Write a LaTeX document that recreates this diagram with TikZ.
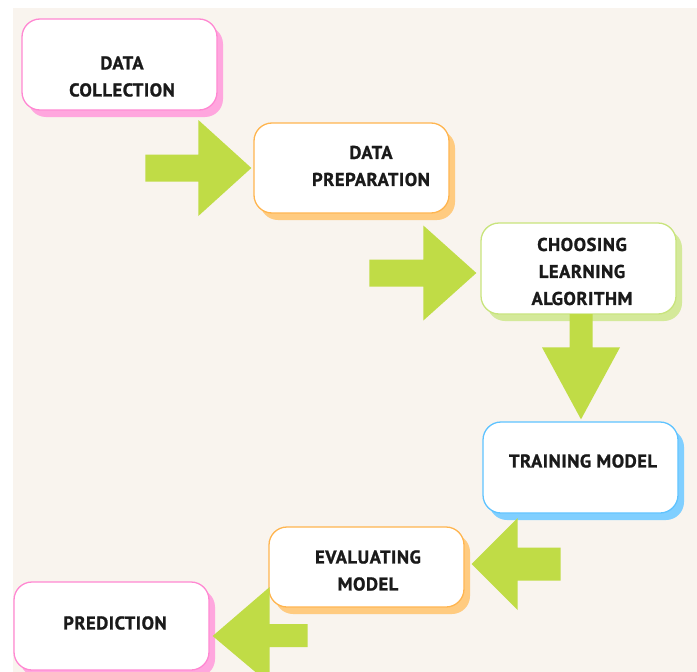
\documentclass[tikz,border=0pt]{standalone}
\usepackage{fontspec}
\newfontfamily\labfont[LetterSpace=3,BoldFeatures={FakeBold=1.2}]{PT Sans}
\usetikzlibrary{shadows,calc}
\definecolor{bgc}{HTML}{F9F4EE}
\definecolor{pinkB}{HTML}{FF88D2}
\definecolor{pinkS}{HTML}{FFA6DE}
\definecolor{orB}{HTML}{FFB54F}
\definecolor{orS}{HTML}{FFCB80}
\definecolor{limB}{HTML}{C8E47C}
\definecolor{limS}{HTML}{D4E99A}
\definecolor{bluB}{HTML}{5FC3FF}
\definecolor{bluS}{HTML}{80CFFF}
\definecolor{arrC}{HTML}{C0DC46}
\definecolor{txtC}{HTML}{1A1A1A}
\tikzset{
  box/.style={draw=#1B, line width=1.3pt, fill=white, rounded corners=18pt,
    minimum width=195pt, inner sep=0pt,
    general shadow={fill=#1S, shadow xshift=6pt, shadow yshift=-7pt}},
  lab/.style={text=txtC, align=center, inner sep=0pt,
    font=\labfont\bfseries\fontsize{18.5}{27}\selectfont},
  arr/.style={fill=arrC}
}
\begin{document}
\begin{tikzpicture}[x=1pt,y=-1pt]
\useasboundingbox (0,0) rectangle (697,672);
\clip (0,0) rectangle (697,672);
\fill[white] (0,0) rectangle (697,672);
\fill[bgc] (13,8) rectangle (697,672);
% boxes
\node[box=pink, minimum height=91pt] (coll) at (119.5,64.5) {};
\node[box=or, minimum height=90pt] (prep) at (351.5,168) {};
\node[box=lim, minimum height=91pt] (choose) at (578.5,268.5) {};
\node[box=blu, minimum height=91pt] (train) at (580.5,467.5) {};
\node[box=or, minimum height=80pt] (eval) at (366.5,567) {};
\node[box=pink, minimum height=88pt] (pred) at (111.5,626) {};
% labels
\node[lab] (tcoll) at (122,76.5) {DATA\\COLLECTION};
\node[lab] (tprep) at (371,166) {DATA\\PREPARATION};
\node[lab] (tchoose) at (582,271.5) {CHOOSING\\LEARNING\\ALGORITHM};
\node[lab] (ttrain) at (583,461) {TRAINING MODEL};
\node[lab] (teval) at (368,570.5) {EVALUATING\\MODEL};
\node[lab] (tpred) at (115,623) {PREDICTION};
% arrow tips
\coordinate (t1) at ($(prep.west)+(-2,0)$);
\coordinate (t2) at ($(choose.west)+(-4,4.5)$);
\coordinate (t3) at ($(train.north)+(0.5,-2)$);
\coordinate (t4) at ($(eval.east)+(7,-3)$);
\coordinate (t5) at ($(pred.east)+(3,10)$);
% arrows
\fill[arr] (t1) -- ++(-53,-48) -- ++(0,34.5) -- ++(-53,0) -- ++(0,27) -- ++(53,0) -- ++(0,34.5) -- cycle;
\fill[arr] (t2) -- ++(-53,-47.5) -- ++(0,34) -- ++(-54,0) -- ++(0,27) -- ++(54,0) -- ++(0,34) -- cycle;
\fill[arr] (t3) -- ++(-39,-72) -- ++(27.5,0) -- ++(0,-33.3) -- ++(23,0) -- ++(0,33.3) -- ++(27.5,0) -- cycle;
\fill[arr] (t4) -- ++(46,-46) -- ++(0,29.5) -- ++(43,0) -- ++(0,33) -- ++(-43,0) -- ++(0,29.5) -- cycle;
\fill[arr] (t5) -- ++(57,-49) -- ++(0,37) -- ++(38,0) -- ++(0,23) -- ++(-38,0) -- ++(0,37) -- cycle;
\end{tikzpicture}
\end{document}
